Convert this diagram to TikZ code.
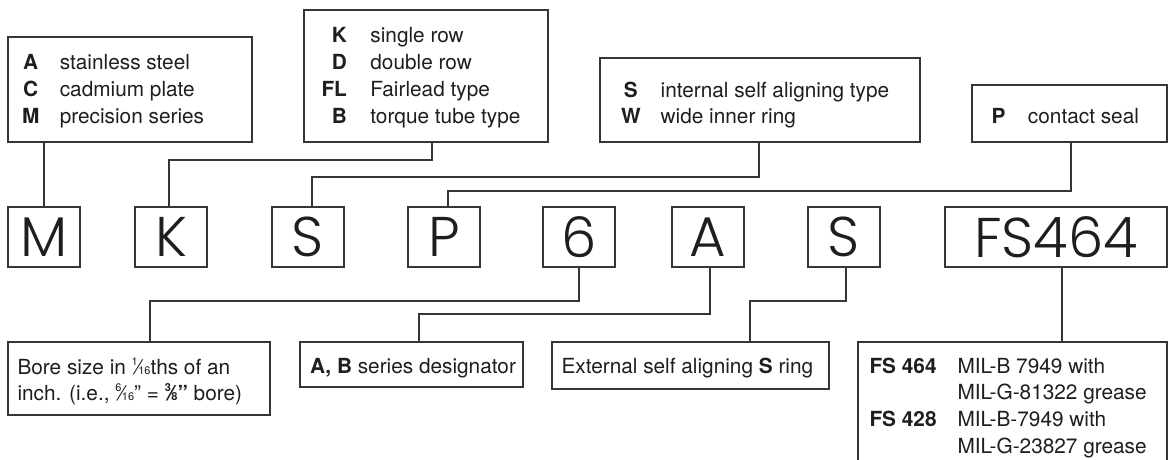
\documentclass[tikz,border=0pt]{standalone}
\usepackage{fontspec}
\setmainfont{TeX Gyre Heros}
\IfFontExistsTF{Poppins Light}{\newfontfamily\bigfam{Poppins Light}}{\newfontfamily\bigfam{Poppins}}
\definecolor{linec}{HTML}{363636}
\definecolor{textc}{HTML}{1E1E1E}
\newcommand\bigfont{\bigfam\fontsize{56}{60}\selectfont}
\newcommand\myfrac[2]{\raisebox{0.42em}{\fontsize{11}{11}\selectfont #1}\kern-1.5pt\char"2044\kern-1.5pt{\fontsize{11}{11}\selectfont #2}}
\begin{document}
\begin{tikzpicture}[x=1pt,y=-1pt]
\tikzset{
  frame/.style={draw=linec, line width=1.2pt, inner sep=0pt, outer sep=0pt},
  letter/.style={frame, minimum height=60pt, font=\bigfont, text=textc},
  txt/.style={inner sep=0pt, outer sep=0pt, anchor=base west, font=\fontsize{20.8}{26.7}\selectfont, text=textc},
  conn/.style={draw=linec, line width=1.2pt},
}
\useasboundingbox (0,0) rectangle (1168,460);
\clip (0,0) rectangle (1168,460);
\fill[white] (0,0) rectangle (1168,460);
% top boxes
\node[frame, minimum width=244pt, minimum height=105pt] (b1) at (130,89.5) {};
\node[frame, minimum width=244pt, minimum height=132pt] (b2) at (426,76) {};
\node[frame, minimum width=320pt, minimum height=84pt] (b3) at (760,100) {};
\node[frame, minimum width=195pt, minimum height=57pt] (b4) at (1069.5,113.5) {};
\node[txt] (t1) at (22,70) {\begin{tabular}[t]{@{}c@{\hspace{20.5pt}}l@{}}\textbf{A}&stainless steel\\\textbf{C}&cadmium plate\\\textbf{M}&precision series\end{tabular}};
\node[txt] (t2) at (321.5,43) {\begin{tabular}[t]{@{}r@{\hspace{23.5pt}}l@{}}\textbf{K}&single row\\\textbf{D}&double row\\\textbf{FL}&Fairlead type\\\textbf{B}&torque tube type\end{tabular}};
\node[txt] (t3) at (621,97) {\begin{tabular}[t]{@{}c@{\hspace{20pt}}l@{}}\textbf{S}&internal self aligning type\\\textbf{W}&wide inner ring\end{tabular}};
\node[txt] (t4) at (991.5,123) {\textbf{P}\hspace{22.6pt}contact seal};
% letter boxes
\node[letter, minimum width=72pt] (nM) at (44,237) {M};
\node[letter, minimum width=72pt] (nK) at (171,237) {K};
\node[letter, minimum width=72pt] (nS) at (308,237) {S};
\node[letter, minimum width=72pt] (nP) at (444,237) {P};
\node[letter, minimum width=72pt] (n6) at (579,237) {6};
\node[letter, minimum width=72pt] (nA) at (708,237) {A};
\node[letter, minimum width=72pt] (nS2) at (844,237) {S};
\node[letter, minimum width=222pt] (nFS) at (1056,237) {FS464};
% bottom boxes
\node[frame, minimum width=262pt, minimum height=73pt] (bore) at (139,378.5) {};
\node[frame, minimum width=223pt, minimum height=45pt] (ab) at (411.5,364.5) {};
\node[frame, minimum width=277pt, minimum height=47pt] (ext) at (690.5,365.5) {};
\node[frame, overlay, minimum width=309pt, minimum height=130pt] (fsb) at (1012.5,407) {};
\node[txt] (t5) at (17.5,374) {\fontsize{20.8}{26}\selectfont\begin{tabular}[t]{@{}l@{}}Bore size in \myfrac{1}{16}ths of an\\inch. (i.e., \myfrac{6}{16}" = \textbf{\myfrac{3}{8}"} bore)\end{tabular}};
\node[txt] (t6) at (310,373) {\textbf{A, B} series designator};
\node[txt] (t7) at (561.5,373) {External self aligning \textbf{S} ring};
\node[txt] (t8) at (869.5,373) {\begin{tabular}[t]{@{}l@{\hspace{21pt}}l@{}}\textbf{FS 464}&MIL-B 7949 with\\&MIL-G-81322 grease\\\textbf{FS 428}&MIL-B-7949 with\\&MIL-G-23827 grease\end{tabular}};
% connectors
\draw[conn] (b1.south -| nM.north) -- (nM.north);
\draw[conn] ([xshift=6pt]b2.south) -- ++(0,18) -| ([xshift=-2pt]nK.north);
\draw[conn] ([xshift=-1pt]b3.south) -- ++(0,35) -| ([xshift=4pt]nS.north);
\draw[conn] ([xshift=1.5pt]b4.south) -- ++(0,49) -| ([xshift=4pt]nP.north);
\draw[conn] (n6.south) -- ++(0,34) -| ([xshift=11pt]bore.north);
\draw[conn] ([xshift=2pt]nA.south) -- ++(0,47) -| ([xshift=7.5pt]ab.north);
\draw[conn] ([xshift=2pt]nS2.south) -- ++(0,34) -| ([xshift=59.5pt]ext.north);
\draw[conn] ([xshift=6pt]nFS.south) -- ([xshift=6pt]nFS.south |- fsb.north);
\end{tikzpicture}
\end{document}
